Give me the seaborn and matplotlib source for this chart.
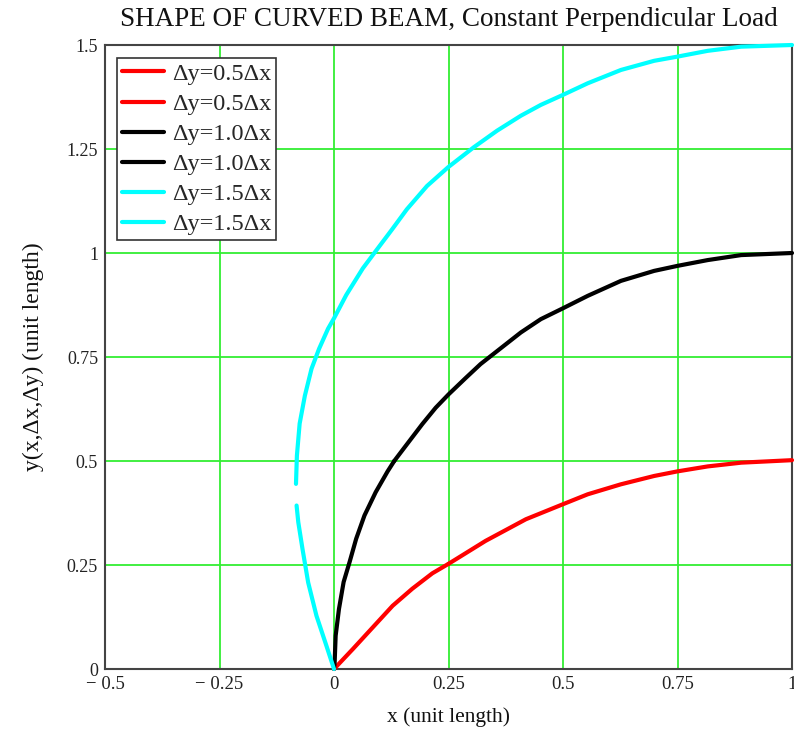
import pandas as pd
import seaborn as sns
import matplotlib.pyplot as plt

# --- data ---
red_x1 = [0, 0.0412, 0.0846, 0.128, 0.171, 0.2147, 0.25]
red_y1 = [0, 0.048, 0.100, 0.152, 0.193, 0.230, 0.2528]
red_x2 = [0.25, 0.287, 0.331, 0.419, 0.4997, 0.554, 0.6265, 0.699, 0.7496, 0.816, 0.889, 1.0]
red_y2 = [0.2528, 0.278, 0.308, 0.360, 0.396, 0.420, 0.444, 0.464, 0.475, 0.487, 0.496, 0.502]

black_x1 = [0, 0.0014, 0.0036, 0.0108, 0.021, 0.034, 0.0484, 0.0665, 0.091, 0.117, 0.1315]
black_y1 = [0, 0.016, 0.080, 0.144, 0.209, 0.257, 0.313, 0.369, 0.425, 0.475, 0.5]
black_x2 = [0.1315, 0.157, 0.193, 0.222, 0.25, 0.287, 0.32, 0.408, 0.4516, 0.4997,
            0.554, 0.6265, 0.699, 0.7496, 0.816, 0.889, 1.0]
black_y2 = [0.5, 0.537, 0.589, 0.628, 0.660, 0.699, 0.733, 0.809, 0.841, 0.867,
            0.897, 0.933, 0.957, 0.969, 0.983, 0.995, 1.0]

cyan_x1 = [0, -0.0166, -0.0383, -0.0564, -0.0687, -0.078, -0.0817]
cyan_y1 = [0, 0.056, 0.128, 0.208, 0.288, 0.353, 0.393]
cyan_x2 = [-0.083, -0.081, -0.075, -0.0636, -0.049, -0.0325, -0.013, 0, 0.0267, 0.0629,
           0.088, 0.127, 0.159, 0.203, 0.249, 0.305, 0.356, 0.408, 0.4516, 0.4997,
           0.554, 0.6265, 0.699, 0.7496, 0.816, 0.889, 1.0]
cyan_y2 = [0.445, 0.513, 0.590, 0.657, 0.722, 0.770, 0.818, 0.843, 0.899, 0.963,
           1.0, 1.057, 1.105, 1.161, 1.206, 1.254, 1.294, 1.330, 1.356, 1.380,
           1.408, 1.44, 1.462, 1.472, 1.486, 1.496, 1.5]

labels = ["Δy=0.5Δx", "Δy=0.5Δx", "Δy=1.0Δx", "Δy=1.0Δx", "Δy=1.5Δx", "Δy=1.5Δx"]
colors = ["#ff0000", "#ff0000", "#000000", "#000000", "#00ffff", "#00ffff"]
series = [(red_x1, red_y1), (red_x2, red_y2), (black_x1, black_y1),
          (black_x2, black_y2), (cyan_x1, cyan_y1), (cyan_x2, cyan_y2)]

x_ticks = [-0.5, -0.25, 0, 0.25, 0.5, 0.75, 1]
x_tick_labels = ["− 0.5", "− 0.25", "0", "0.25", "0.5", "0.75", "1"]
y_ticks = [0, 0.25, 0.5, 0.75, 1, 1.25, 1.5]
y_tick_labels = ["0", "0.25", "0.5", "0.75", "1", "1.25", "1.5"]

sns.set_theme(style="white")
plt.rcParams['font.family'] = ['Liberation Serif', 'DejaVu Serif']

fig = plt.figure(figsize=(7.94, 7.47), dpi=100)
ax = fig.add_axes([105 / 794, 1 - 669 / 747, 687 / 794, 624 / 747])

for (xs, ys), lab, col in zip(series, labels, colors):
    df = pd.DataFrame({'x': xs, 'y': ys})
    sns.lineplot(data=df, x='x', y='y', sort=False, estimator=None, color=col,
                 linewidth=3, label=lab, ax=ax, clip_on=False, zorder=5)

ax.set_xlim(-0.5, 1)
ax.set_ylim(0, 1.5)
ax.set_xticks(x_ticks)
ax.set_xticklabels(x_tick_labels, fontsize=13.5)
ax.set_yticks(y_ticks)
ax.set_yticklabels(y_tick_labels, fontsize=13)
ax.grid(True, color="#33ee33", linewidth=1.3)
ax.tick_params(axis='both', length=3, width=1, color="#33ee33", pad=2, labelcolor="#222222")
for s in ax.spines.values():
    s.set_color("#444444")
    s.set_linewidth(1.5)

ax.set_xlabel("x (unit length)", fontsize=15.5, labelpad=10, color="#111111")
ax.set_ylabel("y(x,Δx,Δy) (unit length)", fontsize=17, labelpad=16, color="#111111")
ax.set_title("SHAPE OF CURVED BEAM, Constant Perpendicular Load", fontsize=19.5, pad=14, color="#111111")

leg = ax.legend(loc='upper left', bbox_to_anchor=(0.018, 0.979), borderaxespad=0,
                fontsize=17.5, handlelength=1.7, handletextpad=0.35, borderpad=0.2,
                labelspacing=0.33, fancybox=False, framealpha=1, edgecolor="#333333")
leg.get_frame().set_linewidth(1.2)
leg.set_zorder(10)

plt.savefig("out.png", dpi=100)
plt.close()
